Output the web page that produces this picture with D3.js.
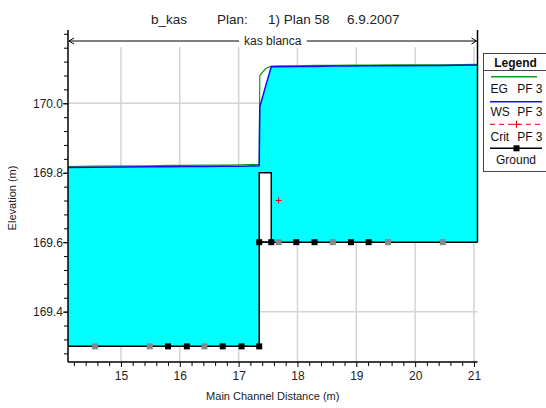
<!DOCTYPE html>
<html><head><meta charset="utf-8">
<script src="https://cdn.jsdelivr.net/npm/d3@7"></script>
<style>
body{margin:0;background:#fff;}
svg{font-family:"Liberation Sans",Arial,sans-serif;}
text{white-space:pre;}
</style></head>
<body><svg id="c" width="546" height="408"></svg>
<script>
// ---- data ----
const xTicks = [15,16,17,18,19,20,21];
const yTicks = [169.4,169.6,169.8,170.0];
const titleParts = ["b_kas","Plan:","1) Plan 58","6.9.2007"];
const reachName = "kas blanca";
// water profile stations (m) and elevations (m)
const wsStations = [14.10,14.56,15.49,15.80,16.12,16.42,16.73,17.05,17.35,17.36,17.46,17.555,17.68,17.98,18.29,18.60,18.91,19.21,19.54,20.47,21.06];
const wsPF3 = [169.815,169.816,169.817,169.817,169.818,169.818,169.819,169.819,169.820,169.990,170.050,170.105,170.105,170.106,170.106,170.107,170.107,170.108,170.108,170.109,170.110];
const egPF3 = [169.818,169.819,169.820,169.821,169.821,169.822,169.822,169.823,169.824,170.080,170.100,170.107,170.108,170.108,170.109,170.109,170.110,170.110,170.111,170.111,170.112];
// ground profile
const groundStations = [14.10,14.56,15.49,15.80,16.12,16.42,16.73,17.05,17.35,17.35,17.555,17.68,17.98,18.29,18.60,18.91,19.21,19.54,20.47,21.06];
const groundElev = [169.30,169.30,169.30,169.30,169.30,169.30,169.30,169.30,169.30,169.60,169.60,169.60,169.60,169.60,169.60,169.60,169.60,169.60,169.60,169.60];
const groundMarker = ["none","gray","gray","black","black","gray","black","black","black","black","black","gray","black","black","gray","black","black","gray","gray","none"];
// critical depth
const critStations = [17.68];
const critPF3 = [169.72];
// inline structure (weir) : station range and top elevation
const structStations = [17.35,17.555];
const structElev = [169.60,169.80];
const legendNames = ["EG","WS","Crit","Ground"];
const legendProfile = ["PF 3","PF 3","PF 3",""];

// ---- chart ----
const svg = d3.select("#c");
const L=68, R=477.5, T=30, B=362;
const x = d3.scaleLinear().domain([14.10,21.06]).range([L,R]);
const y = d3.scaleLinear().domain([169.255,170.211]).range([B,T]);

// gridlines
const g = svg.append("g");
g.selectAll("line.vg").data(xTicks).enter().append("line")
  .attr("x1",d=>x(d)).attr("x2",d=>x(d)).attr("y1",T+17).attr("y2",B)
  .attr("stroke","#d4d4d4").attr("stroke-width",1.5);
g.selectAll("line.hg").data(yTicks).enter().append("line")
  .attr("x1",L).attr("x2",R).attr("y1",d=>y(d)).attr("y2",d=>y(d))
  .attr("stroke","#d4d4d4").attr("stroke-width",1.5);

// water fill
const wsPts = wsStations.map((s,i)=>[s,wsPF3[i]]);
const gPts = groundStations.map((s,i)=>[s,groundElev[i]]);
const poly = wsPts.concat(gPts.slice().reverse());
svg.append("path").attr("d", d3.line().x(d=>x(d[0])).y(d=>y(d[1]))(poly)+"Z")
  .attr("fill","#00ffff").attr("stroke","none");

// structure
svg.append("rect")
  .attr("x",x(structStations[0])).attr("y",y(structElev[1]))
  .attr("width",x(structStations[1])-x(structStations[0]))
  .attr("height",y(structElev[0])-y(structElev[1]))
  .attr("fill","#fff").attr("stroke","#000").attr("stroke-width",1.5);

// ground line
const ln = d3.line().x(d=>x(d[0])).y(d=>y(d[1]));
svg.append("path").attr("d",ln(gPts)).attr("fill","none").attr("stroke","#000").attr("stroke-width",1.5);
// EG & WS
svg.append("path").attr("d",ln(egPF3.map((v,i)=>[wsStations[i],v]))).attr("fill","none").attr("stroke","#159a15").attr("stroke-width",1.2);
svg.append("path").attr("d",ln(wsPts)).attr("fill","none").attr("stroke","#1010ee").attr("stroke-width",1.5);
// ground markers
svg.selectAll("rect.gm").data(gPts.map((p,i)=>({p,m:groundMarker[i]})).filter(d=>d.m!=="none"))
  .enter().append("rect")
  .attr("x",d=>x(d.p[0])-3).attr("y",d=>y(d.p[1])-3).attr("width",6).attr("height",6)
  .attr("fill",d=>d.m==="black"?"#000":"#888");
// crit
critStations.forEach((s,i)=>{
  const cx=x(s), cy=y(critPF3[i]);
  svg.append("path").attr("d",`M${cx-3},${cy}H${cx+3}M${cx},${cy-3}V${cy+3}`).attr("stroke","#e00").attr("stroke-width",1);
});

// axes
const xMinor = d3.range(142,211,2).map(v=>v/10).filter(v=>Math.abs(v-Math.round(v))>0.01);
const axm = svg.append("g").attr("transform",`translate(0,${B})`)
  .call(d3.axisBottom(x).tickValues(xMinor).tickSize(4).tickFormat(""));
axm.select(".domain").remove();
const ax = svg.append("g").attr("transform",`translate(0,${B})`)
  .call(d3.axisBottom(x).tickValues(xTicks).tickSize(5).tickFormat(d3.format("d")));
const yMinor = d3.range(4227,4256,1).map(v=>v*0.04).filter(v=>v>169.26&&v<170.21);
const aym = svg.append("g").attr("transform",`translate(${L},0)`)
  .call(d3.axisLeft(y).tickValues(yMinor).tickSize(4).tickFormat(""));
aym.select(".domain").remove();
const ay = svg.append("g").attr("transform",`translate(${L},0)`)
  .call(d3.axisLeft(y).tickValues(yTicks).tickSize(5).tickFormat(d3.format(".1f")));
svg.selectAll(".domain").attr("stroke","#000").attr("stroke-width",1.5);
svg.selectAll(".tick line").attr("stroke","#000");
svg.selectAll(".tick text").attr("font-size",12).attr("fill","#222").attr("font-family","Liberation Sans, Arial, sans-serif");
ax.selectAll(".tick text").attr("dy","0.85em");
ay.selectAll(".tick text").attr("x",-5);
ax.select(".domain").attr("d",`M${L},0H${R}`);
ay.select(".domain").attr("d",`M0,${T}V${B}`);

// reach bracket
svg.append("line").attr("x1",R).attr("x2",R).attr("y1",T).attr("y2",y(169.6)).attr("stroke","#000").attr("stroke-width",1.5);
const by=41;
svg.append("line").attr("x1",L+1).attr("x2",R-1).attr("y1",by).attr("y2",by).attr("stroke","#000").attr("stroke-width",1);
svg.append("path").attr("d",`M${L+6},${by-3}L${L+1},${by}L${L+6},${by+3}M${R-6},${by-3}L${R-1},${by}L${R-6},${by+3}`).attr("fill","none").attr("stroke","#000").attr("stroke-width",1);
const bg = svg.append("rect").attr("fill","#fff");
const rl = svg.append("text").attr("x",(L+R)/2).attr("y",by+4).attr("text-anchor","middle").attr("font-size",12).attr("fill","#222").text(reachName);
const bb = rl.node().getBBox();
bg.attr("x",bb.x-5).attr("y",bb.y).attr("width",bb.width+10).attr("height",bb.height);

// title
const tx=[151,217,268,347];
const tt = svg.append("text").attr("y",24).attr("font-size",13.5).attr("fill","#222");
titleParts.forEach((p,i)=>tt.append("tspan").attr("x",tx[i]).text(p));

// axis titles
svg.append("text").attr("x",(L+R)/2).attr("y",400).attr("text-anchor","middle").attr("font-size",11).attr("fill","#222").text("Main Channel Distance (m)");
svg.append("text").attr("transform","translate(16,198) rotate(-90)").attr("text-anchor","middle").attr("font-size",11).attr("fill","#222").text("Elevation (m)");

// legend
const lg = svg.append("g");
lg.append("rect").attr("x",483.5).attr("y",53.5).attr("width",64).attr("height",118).attr("fill","#fff").attr("stroke","#444").attr("stroke-width",1);
lg.append("text").attr("x",515.5).attr("y",66.5).attr("text-anchor","middle").attr("font-size",12).attr("font-weight","bold").attr("fill","#111").text("Legend");
lg.append("line").attr("x1",483.5).attr("x2",546).attr("y1",70.5).attr("y2",70.5).attr("stroke","#444");
const ly=[76.7,101.7,124.3,148.3], ty=[92.5,116,140.5,164];
lg.append("line").attr("x1",491).attr("x2",537).attr("y1",ly[0]).attr("y2",ly[0]).attr("stroke","#159a15").attr("stroke-width",1.5);
lg.append("line").attr("x1",490).attr("x2",542).attr("y1",ly[1]).attr("y2",ly[1]).attr("stroke","#1010ee").attr("stroke-width",1.5);
lg.append("line").attr("x1",490).attr("x2",543).attr("y1",ly[2]).attr("y2",ly[2]).attr("stroke","#e00").attr("stroke-width",1).attr("stroke-dasharray","5,4");
lg.append("path").attr("d",`M513,${ly[2]}H520M516.5,${ly[2]-3.5}V${ly[2]+3.5}`).attr("stroke","#e00").attr("stroke-width",1);
lg.append("line").attr("x1",490).attr("x2",542).attr("y1",ly[3]).attr("y2",ly[3]).attr("stroke","#000").attr("stroke-width",1.5);
lg.append("rect").attr("x",513.5).attr("y",ly[3]-3).attr("width",6).attr("height",6).attr("fill","#000");
legendNames.forEach((t,i)=>{
  if(legendProfile[i]){
    lg.append("text").attr("x",490.5).attr("y",ty[i]).attr("font-size",12).attr("fill","#111").text(t);
    lg.append("text").attr("x",542.5).attr("y",ty[i]).attr("text-anchor","end").attr("font-size",12).attr("fill","#111").text(legendProfile[i]);
  } else {
    lg.append("text").attr("x",516).attr("y",ty[i]).attr("text-anchor","middle").attr("font-size",12).attr("fill","#111").text(t);
  }
});
</script></body></html>
